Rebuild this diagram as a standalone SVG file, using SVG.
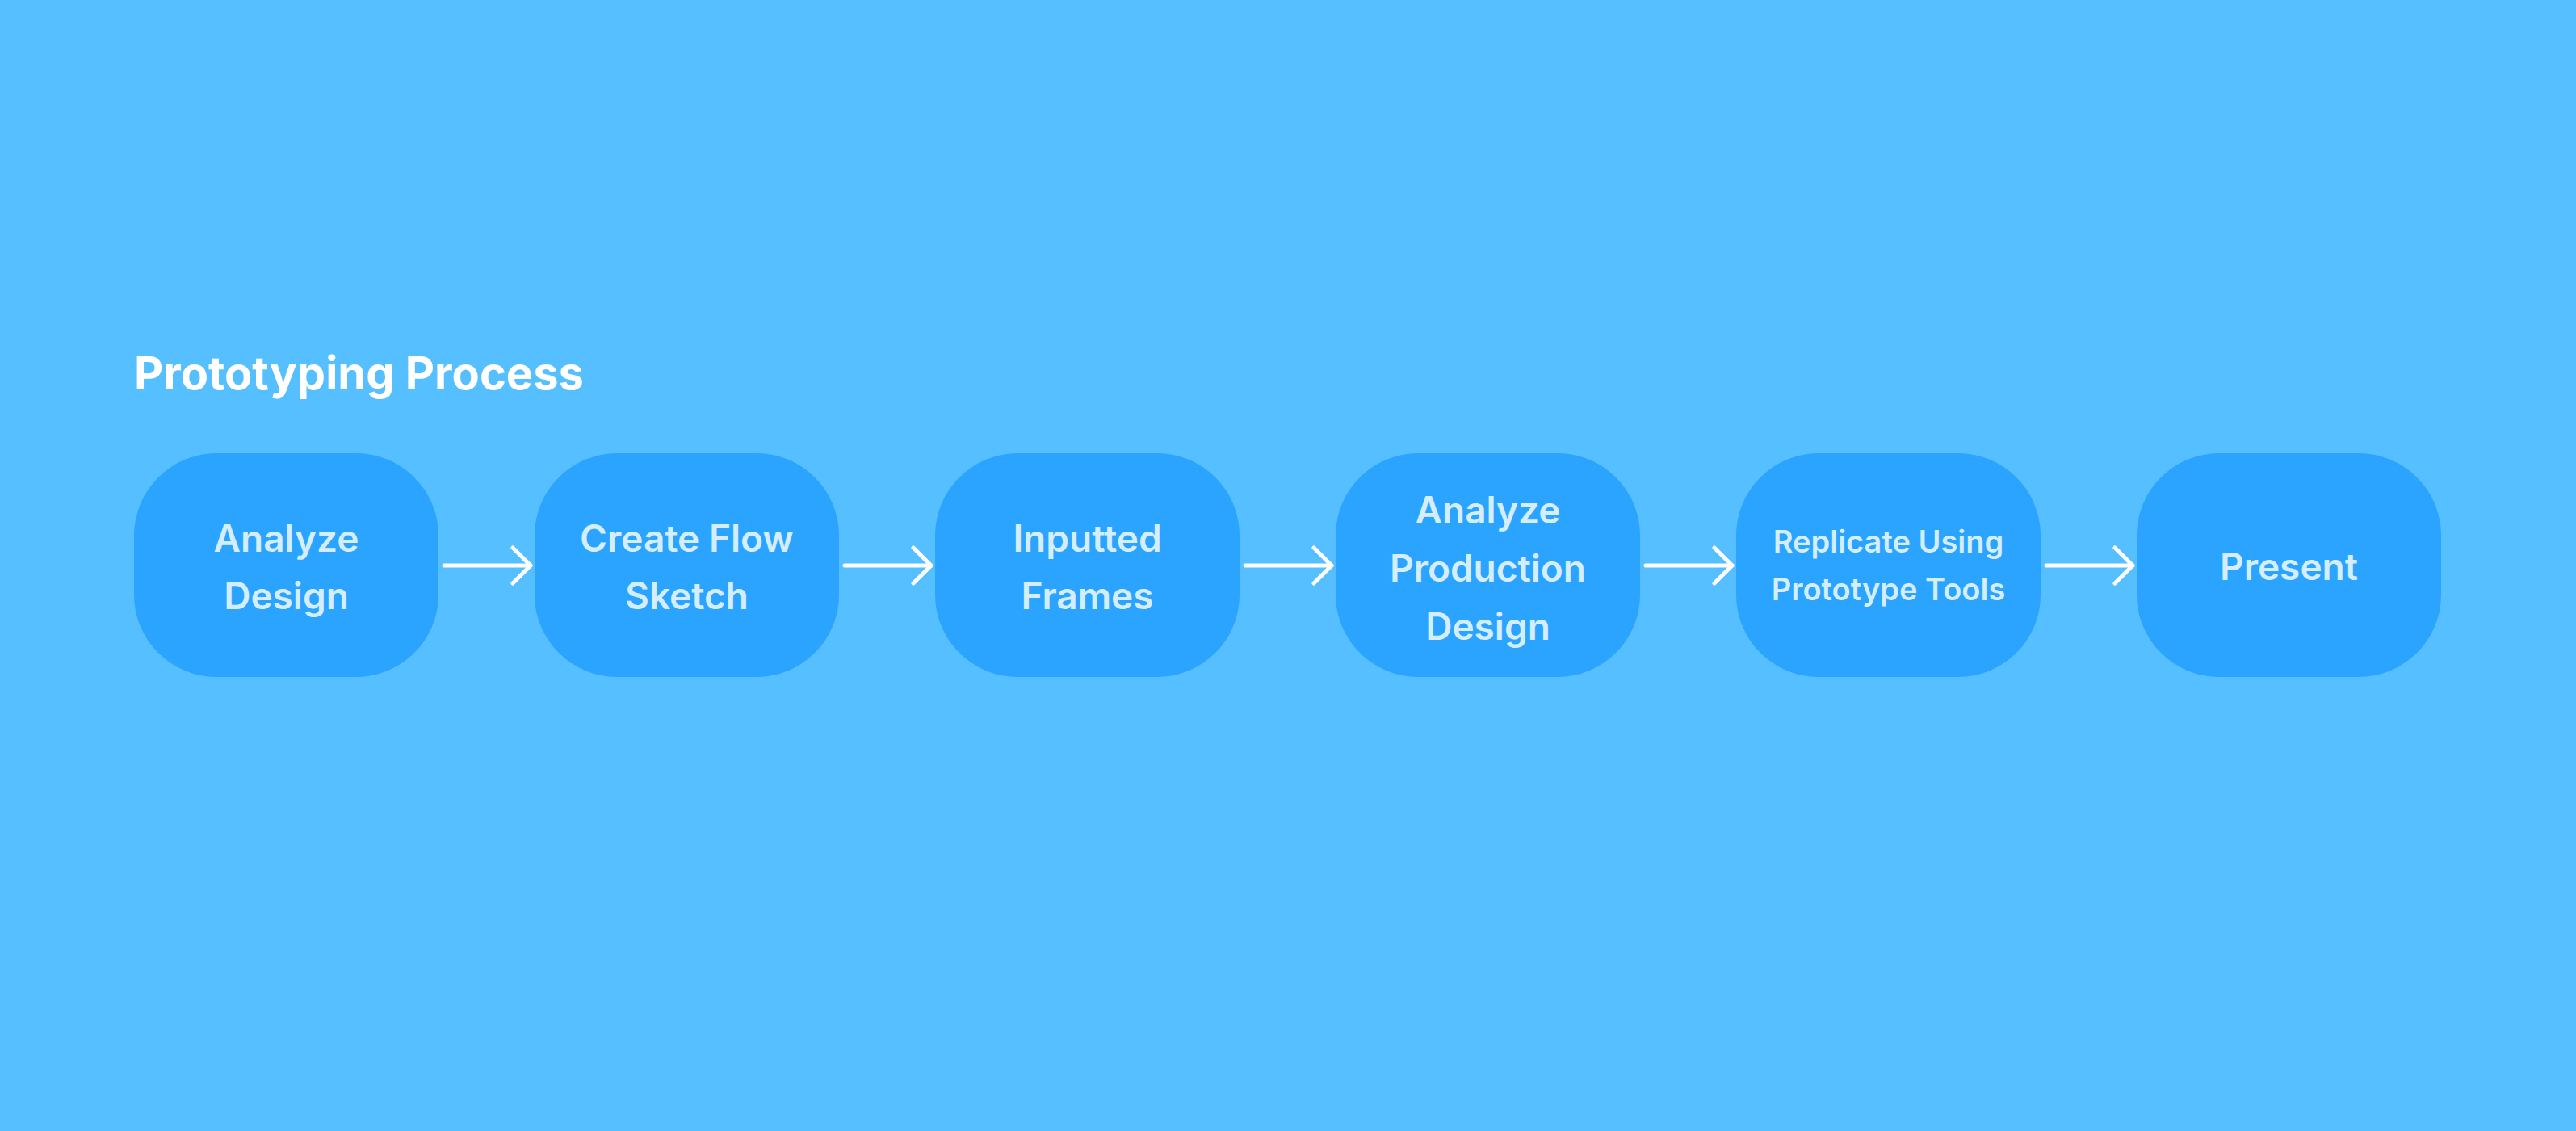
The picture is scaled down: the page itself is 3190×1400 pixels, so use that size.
<svg xmlns="http://www.w3.org/2000/svg" width="3190" height="1400" viewBox="0 0 3190 1400">
<defs>
<style>
.bg{fill:#56BFFF}
.node rect{fill:#2AA4FF}
.node text{font-family:Inter,"Noto Sans","Liberation Sans",sans-serif;font-weight:600;font-size:46px;fill:#D4EEFF;text-anchor:middle}
.node text.small{font-size:38px}
.title{font-family:Inter,"Noto Sans","Liberation Sans",sans-serif;font-weight:700;font-size:56px;fill:#FFFFFF}
.conn path{fill:none;stroke:#FFFFFF;stroke-width:5;stroke-linecap:round;stroke-linejoin:round}
</style>
<marker id="arrow" viewBox="0 0 30 50" refX="26" refY="25" markerWidth="30" markerHeight="50" markerUnits="userSpaceOnUse" orient="auto">
<path d="M4 3 L26 25 L4 47" fill="none" stroke="#FFFFFF" stroke-width="5" stroke-linecap="round" stroke-linejoin="round"/>
</marker>
</defs>
<rect class="bg" x="0" y="0" width="3190" height="1400"/>
<text class="title" x="166" y="482">Prototyping Process</text>
<g id="n1" class="node"><rect x="166" y="561" width="377" height="277" rx="102" ry="102"/><text x="354.5" y="683">Analyze</text><text x="354.5" y="754">Design</text></g>
<g id="n2" class="node"><rect x="662" y="561" width="377" height="277" rx="102" ry="102"/><text x="850.5" y="683">Create Flow</text><text x="850.5" y="754">Sketch</text></g>
<g id="n3" class="node"><rect x="1158" y="561" width="377" height="277" rx="102" ry="102"/><text x="1346.5" y="683">Inputted</text><text x="1346.5" y="754">Frames</text></g>
<g id="n4" class="node"><rect x="1654" y="561" width="377" height="277" rx="102" ry="102"/><text x="1842.5" y="648">Analyze</text><text x="1842.5" y="720">Production</text><text x="1842.5" y="792">Design</text></g>
<g id="n5" class="node"><rect x="2150" y="561" width="377" height="277" rx="102" ry="102"/><text class="small" x="2338.5" y="684">Replicate Using</text><text class="small" x="2338.5" y="743">Prototype Tools</text></g>
<g id="n6" class="node"><rect x="2646" y="561" width="377" height="277" rx="102" ry="102"/><text x="2834.5" y="718">Present</text></g>
<g id="connectors" class="conn">
<path d="M550 700 H657" marker-end="url(#arrow)"/>
<path d="M1046 700 H1153" marker-end="url(#arrow)"/>
<path d="M1542 700 H1649" marker-end="url(#arrow)"/>
<path d="M2038 700 H2145" marker-end="url(#arrow)"/>
<path d="M2534 700 H2641" marker-end="url(#arrow)"/>
</g>
</svg>
